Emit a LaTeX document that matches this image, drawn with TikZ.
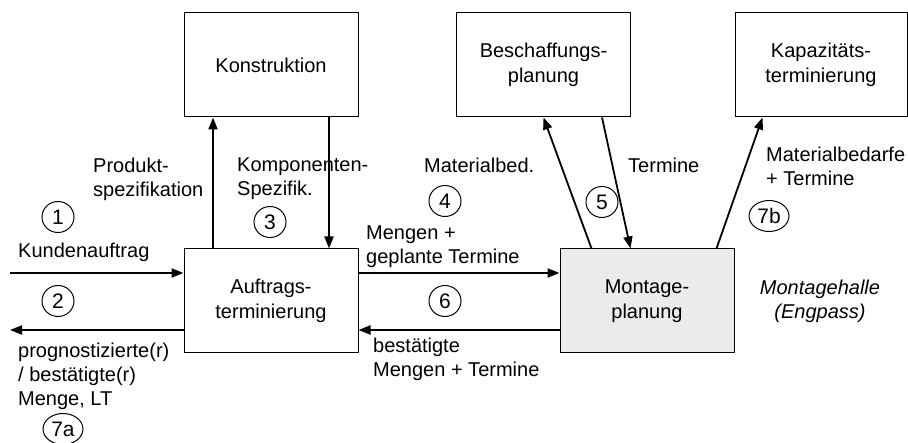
\documentclass[tikz,border=0pt]{standalone}
\usepackage{fontspec}
\setmainfont{Liberation Sans}
\usetikzlibrary{arrows.meta,shapes.geometric}
\tikzset{
  box/.style={draw, line width=1pt, minimum width=174pt, minimum height=104pt, align=center, inner sep=0pt},
  num/.style={draw, ellipse, line width=1pt, minimum width=32pt, minimum height=31pt, inner sep=0pt, font=\fontsize{21}{24}\selectfont},
  lbl/.style={anchor=north west, inner sep=0pt, align=left},
  arr/.style={line width=1.8pt, -{Triangle[length=12pt,width=9pt]}}
}
\begin{document}
\begin{tikzpicture}[x=1pt, y=-1pt, font=\fontsize{20}{24.5}\selectfont]
    \useasboundingbox (0,0) rectangle (908,443);
    % boxes
    \node[box] (kon) at (271, 65) {Konstruktion};
    \node[box] (bes) at (543.5, 65) {Beschaffungs-\\planung};
    \node[box, minimum width=172pt] (kap) at (821, 65) {Kapazitäts-\\terminierung};
    \node[box] (auf) at (271, 301) {Auftrags-\\terminierung};
    \node[box, fill=black!8] (mon) at (647, 301) {Montage-\\planung};
    % numbers
    \node[num] (n1) at (58, 217) {1};
    \node[num] (n2) at (58, 301) {2};
    \node[num] (n3) at (270, 222) {3};
    \node[num] (n4) at (445, 201) {4};
    \node[num] (n5) at (602, 202) {5};
    \node[num] (n6) at (445, 301) {6};
    \node[num, minimum width=40pt] (n7a) at (63, 429) {7a};
    \node[num, minimum width=40pt] (n7b) at (769, 216) {7b};
    % labels
    \node[lbl] (produkt) at (93, 157.5) {Produkt-\\spezifikation};
    \node[lbl] (kompo) at (237, 157.5) {Komponenten-\\Spezifik.};
    \node[lbl] (matbed) at (424, 157.5) {Materialbed.};
    \node[lbl] (termine) at (628, 157.5) {Termine};
    \node[lbl] (matterm) at (766, 146.5) {Materialbedarfe\\+ Termine};
    \node[lbl] (mengen) at (366, 225.5) {Mengen +\\geplante Termine};
    \node[lbl] (kunde) at (18, 242.5) {Kundenauftrag};
    \node[lbl, font=\fontsize{20}{24}\selectfont] (prog) at (18, 342.5) {prognostizierte(r)\\/ bestätigte(r)\\Menge, LT};
    \node[lbl] (best) at (373, 337.5) {bestätigte\\Mengen + Termine};
    \node[anchor=north, inner sep=0pt, align=center, font=\fontsize{20}{24}\itshape] (halle) at (820, 280) {Montagehalle\\(Engpass)};
    % connectors
    \coordinate (xup) at (213, 0);
    \coordinate (xdn) at (329, 0);
    \coordinate (in1) at (10, 273);
    \coordinate (out2) at (10, 330);
    \draw[arr] (auf.north -| xup) -- (kon.south -| xup);
    \draw[arr] (kon.south -| xdn) -- (auf.north -| xdn);
    \draw[arr] (in1) -- (auf.west |- in1);
    \draw[arr] (auf.west |- out2) -- (out2);
    \draw[arr] (auf.east |- in1) -- (mon.west |- in1);
    \draw[arr] (mon.west |- out2) -- (auf.east |- out2);
    \draw[arr] ([xshift=32pt]mon.north west) -- (bes.south);
    \draw[arr] ([xshift=146pt]bes.south west) -- ([xshift=71pt]mon.north west);
    \draw[arr] ([xshift=157pt]mon.north west) -- ([xshift=28pt]kap.south west);
\end{tikzpicture}
\end{document}
